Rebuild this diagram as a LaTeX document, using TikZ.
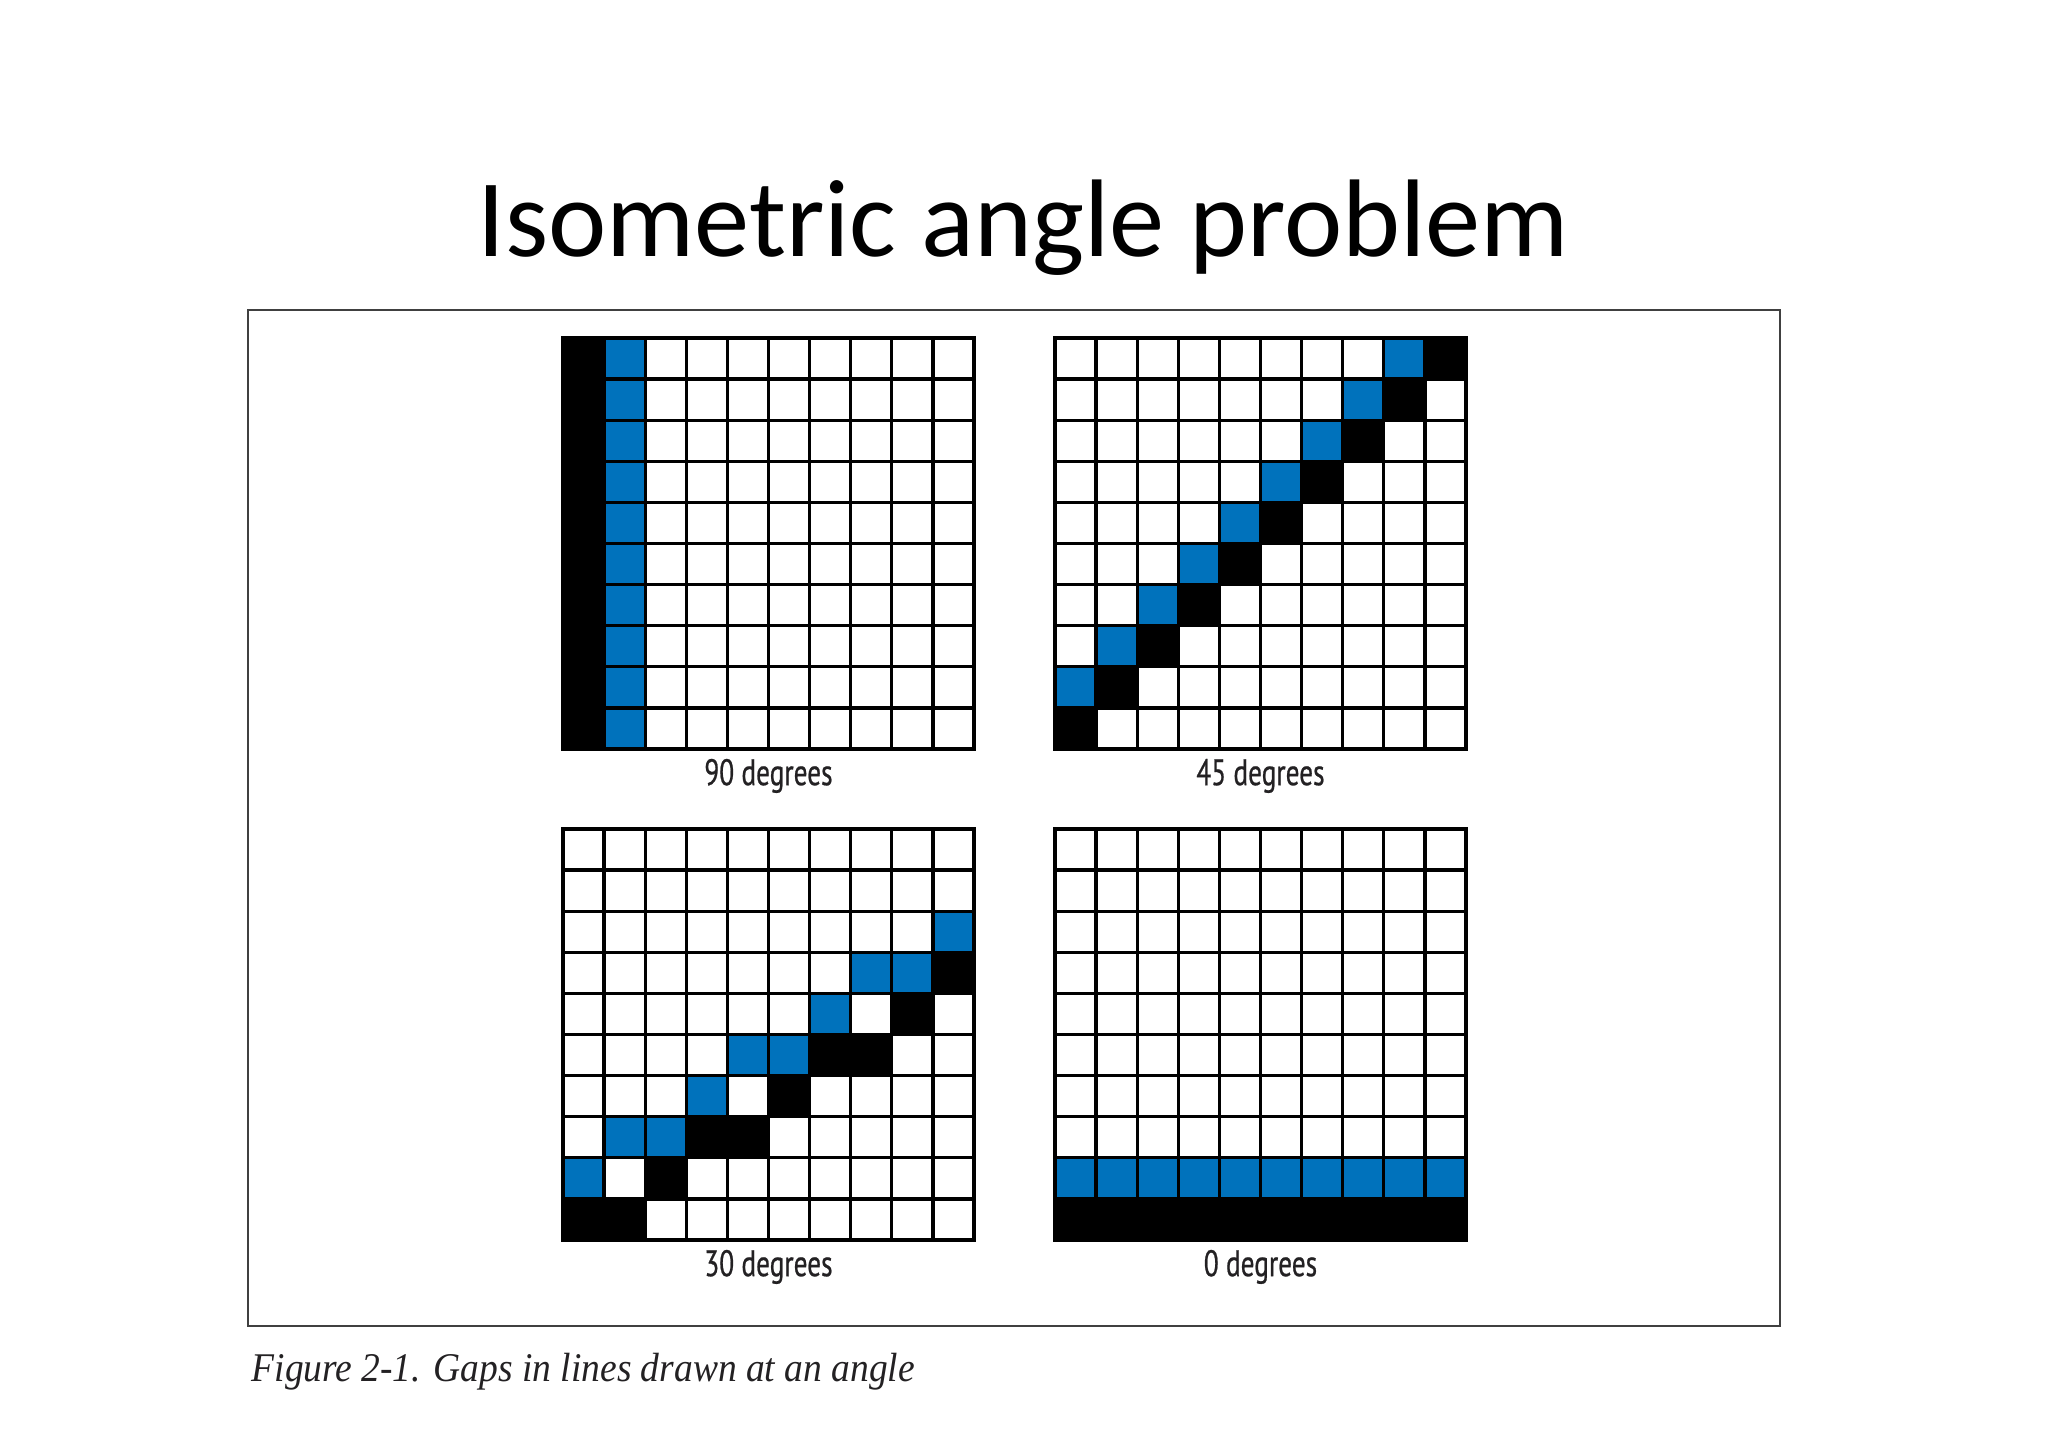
\documentclass[tikz,border=0pt]{standalone}
\usepackage{fontspec}
\setmainfont{Carlito}
\newfontfamily\degfont[FakeStretch=0.74,FakeBold=0.6]{PT Sans}
\newfontfamily\capfont[FakeStretch=0.92]{Liberation Serif}
\definecolor{pixblue}{RGB}{0,114,188}
\definecolor{inkgray}{RGB}{35,33,35}

\begin{document}
\begin{tikzpicture}[
    cellgrid/.style={line width=0.95pt, step=1, line cap=rect},
    deglabel/.style={anchor=base, inner sep=0pt, text=inkgray, font=\degfont\fontsize{10.5}{12}\selectfont},
    blackcell/.style={fill=black},
    bluecell/.style={fill=pixblue}
  ]
  \useasboundingbox (0,0) rectangle (20.48,14.47);
  \node[anchor=base, inner sep=0pt] (title) at (10.23,11.90)
    {\fontsize{31.4}{38}\selectfont Isometric angle problem};
  \draw[line width=0.6pt, black!75] (2.48,1.21) rectangle (17.80,11.37);
  % 90 degrees
  \begin{scope}[shift={(5.63,6.98)}, x=0.411cm, y=0.411cm]
    \foreach \r in {0,...,9}
    {
      \fill[blackcell] (0,\r) rectangle ++(1,1);
      \fill[bluecell] (1,\r) rectangle ++(1,1);
    }
    \draw[cellgrid] (0,0) grid (10,10);
    \node[deglabel] (lab90) at (5,-0.88) {90 degrees};
  \end{scope}
  % 45 degrees
  \begin{scope}[shift={(10.55,6.98)}, x=0.411cm, y=0.411cm]
    \foreach \r in {0,...,9}
    {
      \fill[blackcell] (\r,\r) rectangle ++(1,1);
    }
    \foreach \r in {1,...,9}
    {
      \fill[bluecell] (\r-1,\r) rectangle ++(1,1);
    }
    \draw[cellgrid] (0,0) grid (10,10);
    \node[deglabel] (lab45) at (5,-0.88) {45 degrees};
  \end{scope}
  % 30 degrees
  \begin{scope}[shift={(5.63,2.07)}, x=0.411cm, y=0.411cm]
    \foreach \c/\r in {0/0,1/0,2/1,3/2,4/2,5/3,6/4,7/4,8/5,9/6}
    {
      \fill[blackcell] (\c,\r) rectangle ++(1,1);
    }
    \foreach \c/\r in {0/1,1/2,2/2,3/3,4/4,5/4,6/5,7/6,8/6,9/7}
    {
      \fill[bluecell] (\c,\r) rectangle ++(1,1);
    }
    \draw[cellgrid] (0,0) grid (10,10);
    \node[deglabel] (lab30) at (5,-0.88) {30 degrees};
  \end{scope}
  % 0 degrees
  \begin{scope}[shift={(10.55,2.07)}, x=0.411cm, y=0.411cm]
    \fill[blackcell] (0,0) rectangle (10,1);
    \fill[bluecell] (0,1) rectangle (10,2);
    \draw[cellgrid] (0,0) grid (10,10);
    \node[deglabel] (lab0) at (5,-0.88) {0 degrees};
  \end{scope}
  \node[anchor=base west, inner sep=0pt, text=inkgray] (caption) at (2.51,0.65)
    {\capfont\itshape\fontsize{11.6}{14}\selectfont Figure 2-1. Gaps in lines drawn at an angle};
\end{tikzpicture}
\end{document}
